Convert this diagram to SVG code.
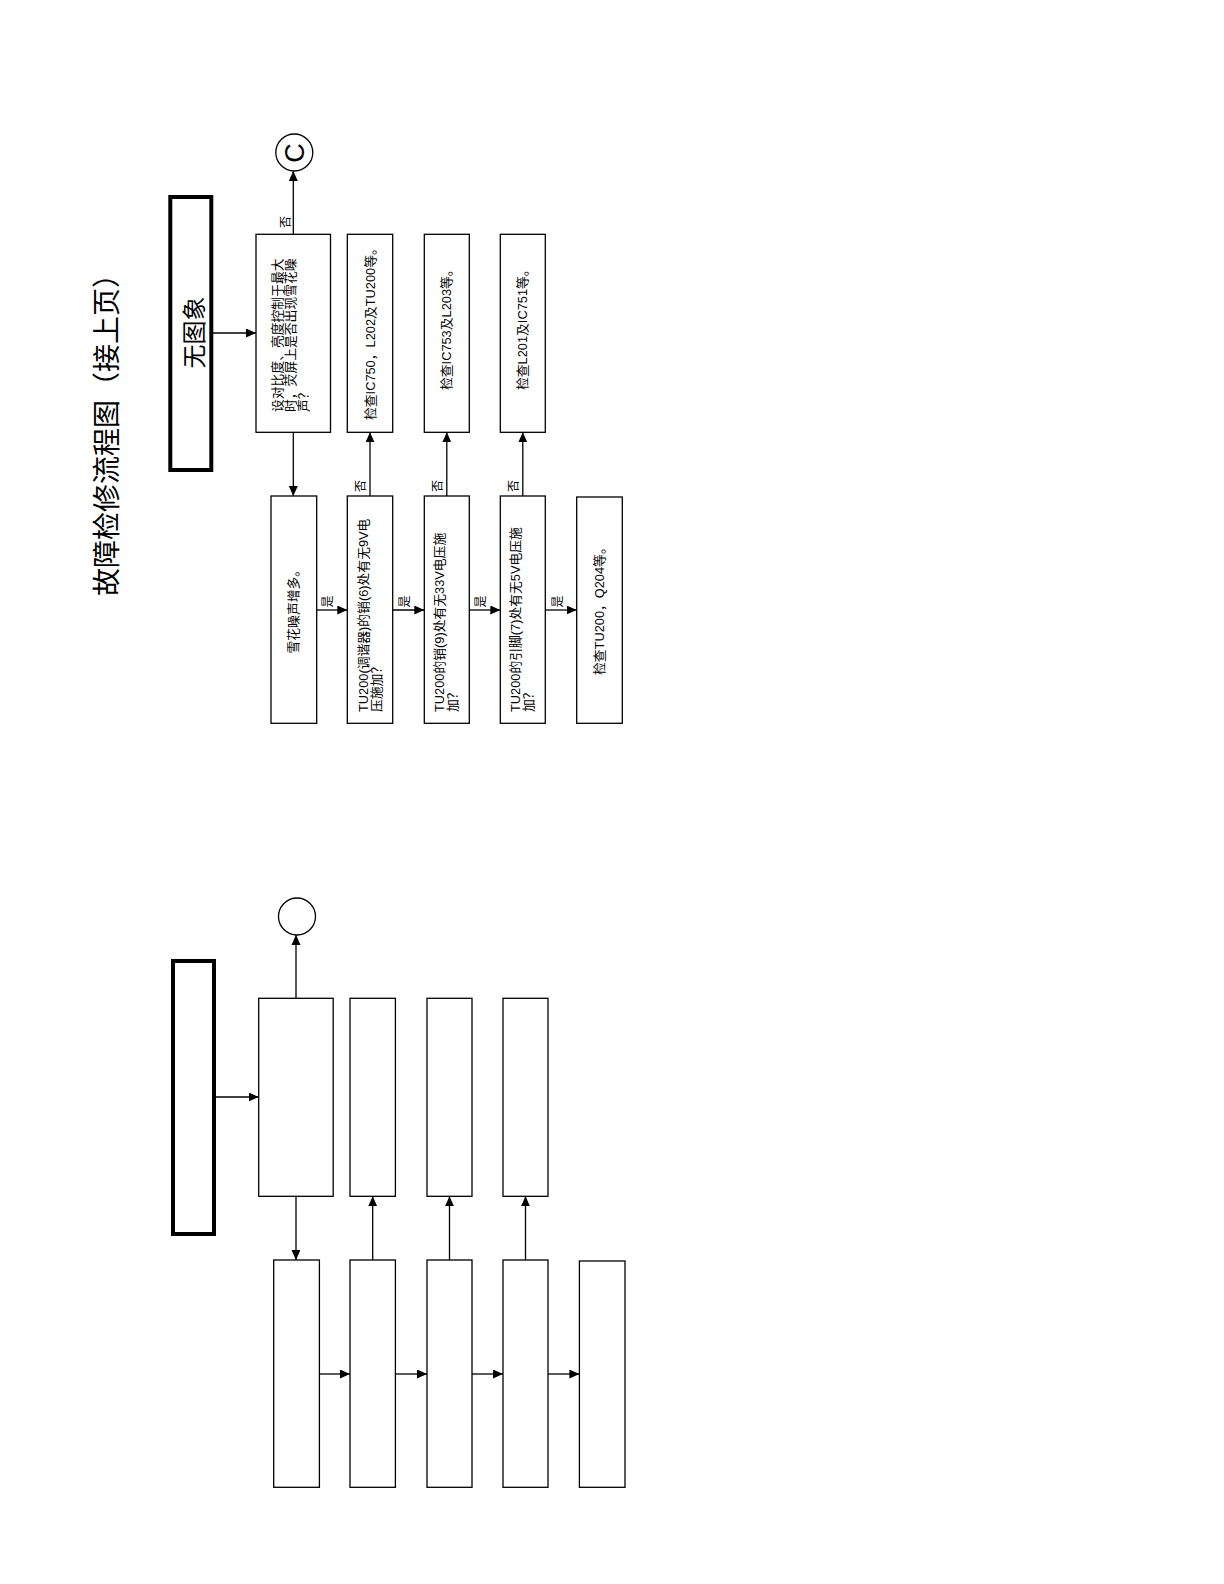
<svg xmlns="http://www.w3.org/2000/svg" width="1224" height="1584" viewBox="0 0 1224 1584">
<style>
.box{fill:#fff;stroke:#000;stroke-width:1.3}
.tbox{fill:#fff;stroke:#000;stroke-width:4}
.circ{fill:#fff;stroke:#000;stroke-width:1.3}
.conn{stroke:#000;stroke-width:1.3;fill:none;marker-end:url(#arr)}
.t{font-family:"Liberation Sans","Noto Sans CJK SC",sans-serif;font-size:12.8px;fill:#000;dominant-baseline:central}
.lbl{font-family:"Noto Sans CJK SC",sans-serif;font-size:12px;fill:#000;dominant-baseline:central;text-anchor:middle}
.big{font-family:"Noto Sans CJK SC",sans-serif;fill:#000;dominant-baseline:central}
</style>
<defs>
<marker id="arr" markerUnits="userSpaceOnUse" markerWidth="11" markerHeight="10" refX="10" refY="4.5" orient="auto">
<path d="M0,0 L10,4.5 L0,9 z" fill="#000"/>
</marker>
</defs>
<rect width="1224" height="1584" fill="#fff"/>

<g id="title"><text class="big" font-size="28" transform="translate(105,596) rotate(-90)">故障检修流程图（接上页）</text></g>

<!-- Upper chart -->
<g id="connectors">
<line class="conn" x1="213" y1="333" x2="256" y2="333"/>
<line class="conn" x1="293.3" y1="234.3" x2="293.3" y2="171"/>
<line class="conn" x1="293.3" y1="432.3" x2="293.3" y2="496"/>
<line class="conn" x1="370" y1="496" x2="370" y2="432.3"/>
<line class="conn" x1="446.8" y1="496" x2="446.8" y2="432.3"/>
<line class="conn" x1="522.8" y1="496" x2="522.8" y2="432.3"/>
<line class="conn" x1="316.7" y1="610" x2="347.3" y2="610"/>
<line class="conn" x1="392.7" y1="610" x2="424.3" y2="610"/>
<line class="conn" x1="469.3" y1="610" x2="500.3" y2="610"/>
<line class="conn" x1="545.3" y1="610" x2="576.7" y2="610"/>
<text class="lbl" transform="translate(284,222) rotate(-90)">否</text>
<text class="lbl" transform="translate(359.5,486) rotate(-90)">否</text>
<text class="lbl" transform="translate(436,486) rotate(-90)">否</text>
<text class="lbl" transform="translate(512,486) rotate(-90)">否</text>
<text class="lbl" transform="translate(326.5,601.5) rotate(-90)">是</text>
<text class="lbl" transform="translate(403,601.5) rotate(-90)">是</text>
<text class="lbl" transform="translate(479,601.5) rotate(-90)">是</text>
<text class="lbl" transform="translate(556,601.5) rotate(-90)">是</text>
</g>

<g id="start">
<rect class="tbox" x="170.3" y="197" width="41" height="273"/>
<text class="big" font-size="24" text-anchor="middle" transform="translate(192,332.5) rotate(-90)">无图象</text>
</g>
<g id="connC">
<circle class="circ" cx="294.3" cy="152.5" r="18.5"/>
<text class="big" font-size="27" text-anchor="middle" transform="translate(294.5,153) rotate(-90)" style="font-family:'Liberation Sans',sans-serif">C</text>
</g>
<g id="decision">
<rect class="box" x="256" y="234.3" width="74.5" height="198"/>
<text class="t" transform="translate(276.5,412) rotate(-90)"><tspan x="0" y="0">设对比度、亮度控制于最大</tspan><tspan x="0" dy="13">时，荧屏上是否出现雪花噪</tspan><tspan x="0" dy="13">声？</tspan></text>
</g>
<g id="chk1">
<rect class="box" x="347.3" y="234.3" width="45.4" height="198"/>
<text class="t" transform="translate(370,420) rotate(-90)">检查IC750，L202及TU200等。</text>
</g>
<g id="chk2">
<rect class="box" x="424.3" y="234.3" width="45" height="198"/>
<text class="t" transform="translate(446.8,390) rotate(-90)">检查IC753及L203等。</text>
</g>
<g id="chk3">
<rect class="box" x="500.3" y="234.3" width="45" height="198"/>
<text class="t" transform="translate(522.8,390) rotate(-90)">检查L201及IC751等。</text>
</g>
<g id="snow">
<rect class="box" x="271" y="496" width="45.7" height="227.3"/>
<text class="t" transform="translate(293.8,653.5) rotate(-90)">雪花噪声增多。</text>
</g>
<g id="q9v">
<rect class="box" x="347.3" y="496" width="45.4" height="227.3"/>
<text class="t" transform="translate(362.5,712) rotate(-90)"><tspan x="0" y="0">TU200(调谐器)的销(6)处有无9V电</tspan><tspan x="0" dy="13">压施加？</tspan></text>
</g>
<g id="q33v">
<rect class="box" x="424.3" y="496" width="45" height="227.3"/>
<text class="t" transform="translate(439,712) rotate(-90)"><tspan x="0" y="0">TU200的销(9)处有无33V电压施</tspan><tspan x="0" dy="13">加？</tspan></text>
</g>
<g id="q5v">
<rect class="box" x="500.3" y="496" width="45" height="227.3"/>
<text class="t" transform="translate(515,712) rotate(-90)"><tspan x="0" y="0">TU200的引脚(7)处有无5V电压施</tspan><tspan x="0" dy="13">加？</tspan></text>
</g>
<g id="chkTU">
<rect class="box" x="576.7" y="497" width="45.6" height="226.3"/>
<text class="t" transform="translate(599.5,675) rotate(-90)">检查TU200，Q204等。</text>
</g>

<!-- Lower empty chart -->
<g transform="translate(2.7,764)">
<g id="connectors2">
<line class="conn" x1="213" y1="333" x2="256" y2="333"/>
<line class="conn" x1="293.3" y1="234.3" x2="293.3" y2="171"/>
<line class="conn" x1="293.3" y1="432.3" x2="293.3" y2="496"/>
<line class="conn" x1="370" y1="496" x2="370" y2="432.3"/>
<line class="conn" x1="446.8" y1="496" x2="446.8" y2="432.3"/>
<line class="conn" x1="522.8" y1="496" x2="522.8" y2="432.3"/>
<line class="conn" x1="316.7" y1="610" x2="347.3" y2="610"/>
<line class="conn" x1="392.7" y1="610" x2="424.3" y2="610"/>
<line class="conn" x1="469.3" y1="610" x2="500.3" y2="610"/>
<line class="conn" x1="545.3" y1="610" x2="576.7" y2="610"/>
</g>
<g id="start2"><rect class="tbox" x="170.3" y="197" width="41" height="273"/></g>
<g id="circ2"><circle class="circ" cx="294.3" cy="152.5" r="18.5"/></g>
<g id="decision2"><rect class="box" x="256" y="234.3" width="74.5" height="198"/></g>
<g id="chk1b"><rect class="box" x="347.3" y="234.3" width="45.4" height="198"/></g>
<g id="chk2b"><rect class="box" x="424.3" y="234.3" width="45" height="198"/></g>
<g id="chk3b"><rect class="box" x="500.3" y="234.3" width="45" height="198"/></g>
<g id="snow2"><rect class="box" x="271" y="496" width="45.7" height="227.3"/></g>
<g id="q9v2"><rect class="box" x="347.3" y="496" width="45.4" height="227.3"/></g>
<g id="q33v2"><rect class="box" x="424.3" y="496" width="45" height="227.3"/></g>
<g id="q5v2"><rect class="box" x="500.3" y="496" width="45" height="227.3"/></g>
<g id="chkTU2"><rect class="box" x="576.7" y="497" width="45.6" height="226.3"/></g>
</g>
</svg>
